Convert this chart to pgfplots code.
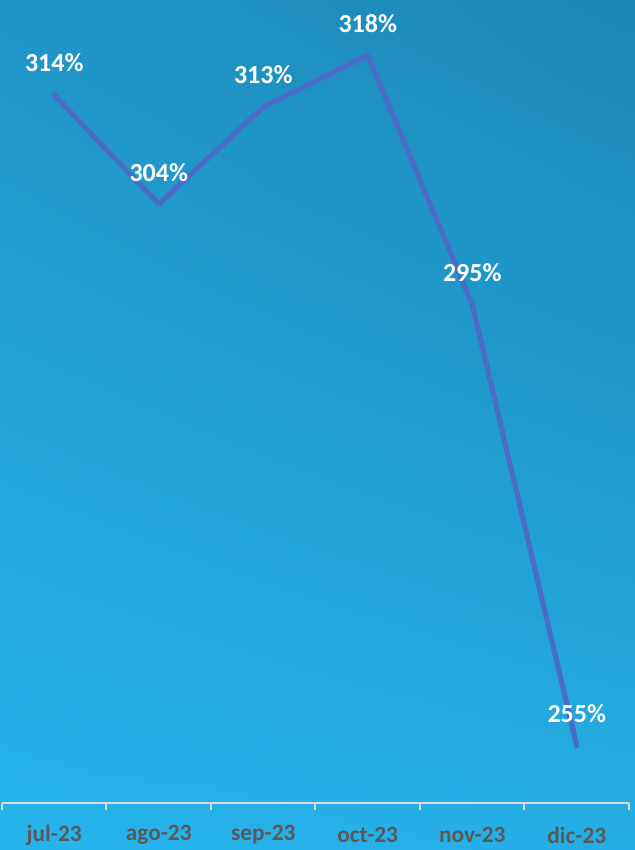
\documentclass[border=0pt]{standalone}
\usepackage{pgfplots}
\pgfplotsset{compat=1.18}
\usetikzlibrary{shadings}
\usepackage{fontspec}
\setmainfont{Carlito}
\definecolor{bgUL}{HTML}{2095C7}
\definecolor{bgUR}{HTML}{1B86B6}
\definecolor{bgLL}{HTML}{25B4EC}
\definecolor{bgLR}{HTML}{25AEE5}
\definecolor{linec}{HTML}{4A6CC6}
\definecolor{tickc}{HTML}{595959}
\definecolor{axc}{HTML}{D9D9D9}
\begin{document}
\begin{tikzpicture}
\shade[upper left=bgUL, upper right=bgUR, lower left=bgLL, lower right=bgLR] (0,0) rectangle (476.25pt,637.5pt);
\path[use as bounding box] (0,0) rectangle (476.25pt,637.5pt);
\begin{axis}[
  at={(1.5pt,35.25pt)}, anchor=south west,
  scale only axis, width=470.25pt, height=602.25pt,
  xmin=-0.5, xmax=5.5, ymin=249.81, ymax=322.61,
  axis x line*=bottom, axis y line=none,
  x axis line style={axc, line width=1.5pt, -},
  xtick={0,1,2,3,4,5},
  xticklabels={jul-23,ago-23,sep-23,oct-23,nov-23,dic-23},
  major tick length=0pt,
  minor xtick={-0.5,0.5,1.5,2.5,3.5,4.5,5.5},
  minor tick length=5.25pt,
  tick align=outside,
  minor tick style={axc, line width=1.5pt},
  xticklabel style={font=\fontsize{17.5}{20}\selectfont\bfseries, text=tickc, anchor=center, yshift=-24pt},
  clip=false,
  nodes near coords,
  point meta=explicit symbolic,
  nodes near coords style={font=\fontsize{19.5}{22}\selectfont\bfseries, text=white, anchor=center, yshift=24pt},
]
\addplot[color=linec, line width=3.9pt, line cap=round, line join=round, mark=none]
coordinates {
 (0,314.0) [314\%]
 (1,304.1) [304\%]
 (2,312.9) [313\%]
 (3,317.6) [318\%]
 (4,295.0) [295\%]
 (5,255.0) [255\%]
};
\end{axis}
\end{tikzpicture}
\end{document}
